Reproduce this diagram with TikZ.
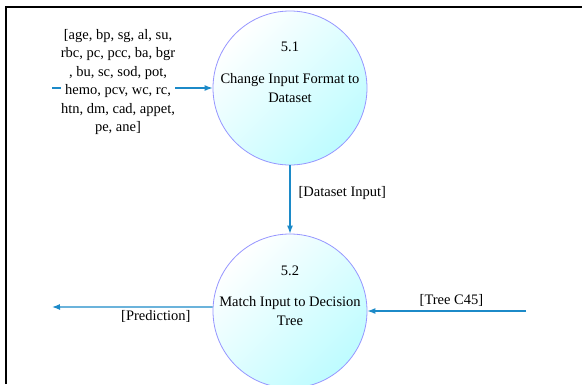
\documentclass[tikz,border=0pt]{standalone}
\usepackage{fontspec}
\setmainfont{Liberation Serif}
\usetikzlibrary{arrows.meta,positioning}

\definecolor{flowblue}{RGB}{28,138,200}
\definecolor{procedge}{RGB}{150,150,255}
\definecolor{procfill}{RGB}{190,252,255}

\begin{document}
\begin{tikzpicture}[x=1pt, y=-1pt, font=\fontsize{14.5}{18.5}\selectfont,
  process/.style={circle, draw=procedge, line width=0.8pt, minimum size=154pt, top color=white, bottom color=procfill, shading angle=45},
  procid/.style={inner sep=0pt},
  procname/.style={align=center, inner sep=0pt},
  flow/.style={-{Latex[length=8pt, width=6pt]}, line width=1.2pt, color=flowblue},
  flowlabel/.style={inner sep=1pt, text=black}]

  \useasboundingbox (0,0) rectangle (582,384);

  % Frame
  \draw[line width=2.5pt] (6,384) -- (6,7) -- (582,7);

  % Processes
  \node[process] (P1) at (290,88) {};
  \node[process, below of=P1, node distance=223pt] (P2) {};
  \node[procid, above of=P1, node distance=41pt] (N1) {5.1};
  \node[procname] (T1) at (P1) {Change Input Format to\\Dataset};
  \node[procid, above of=P2, node distance=40pt] (N2) {5.2};
  \node[procname] (T2) at (P2) {Match Input to Decision\\Tree};

  % Free ends
  \coordinate (In) at (52,88);
  \coordinate (Out) at (52,307);
  \coordinate (TreeIn) at (526,311);

  % Flows
  \draw[flow] (In) -- (P1);
  \node[fill=white, align=center, inner sep=0pt] (Attrs) at (118,82) {[age, bp, sg, al, su,\\rbc, pc, pcc, ba, bgr\\, bu, sc, sod, pot,\\hemo, pcv, wc, rc,\\htn, dm, cad, appet,\\pe, ane]};
  \draw[flow] (P1) -- (P2) node[flowlabel, right=7pt, pos=0.4] (L1) {[Dataset Input]};
  \draw[flow] (P2.177) -- (Out) node[flowlabel, below=2pt, pos=0.354] (L2) {[Prediction]};
  \draw[flow] (TreeIn) -- (P2) node[flowlabel, above=3pt, pos=0.47] (L3) {[Tree C45]};

\end{tikzpicture}
\end{document}
